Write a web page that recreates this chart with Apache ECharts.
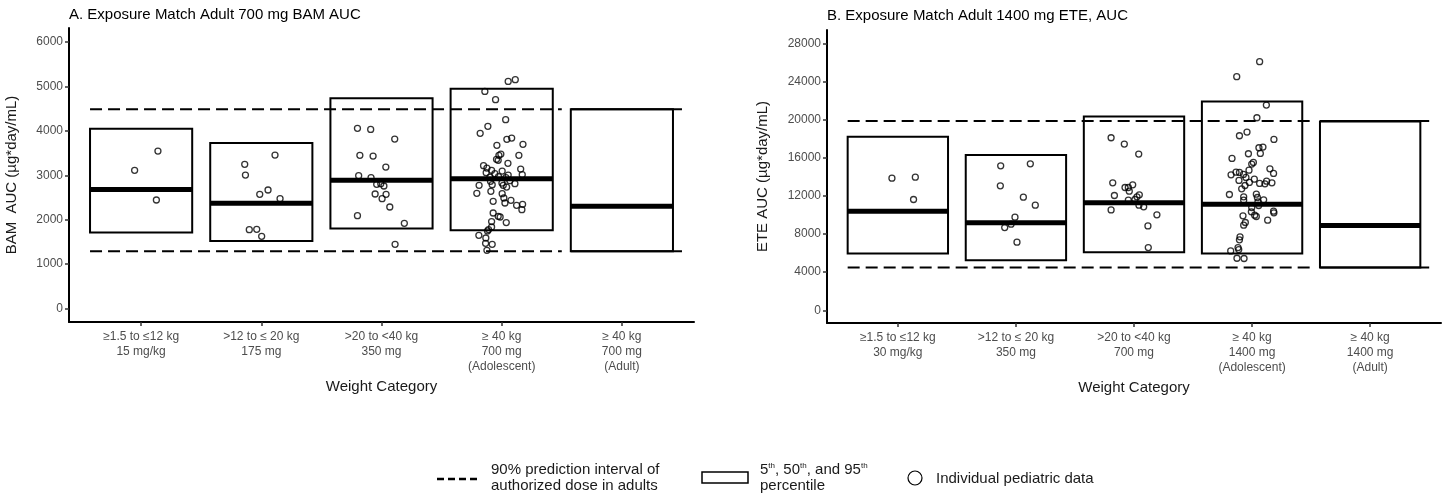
<!DOCTYPE html>
<html>
<head>
<meta charset="utf-8">
<script src="https://cdn.jsdelivr.net/npm/echarts@6/dist/echarts.min.js"></script>
<style>
  html, body { margin: 0; background: #fff; }
  #chart { width: 1447px; height: 500px; }
</style>
</head>
<body>
<div id="chart"></div>
<script>
// category tick labels
const bamLabels = ['\u22651.5 to \u226412 kg\n15 mg/kg', '>12 to \u2264 20 kg\n175 mg', '>20 to <40 kg\n350 mg', '\u2265 40 kg\n700 mg\n(Adolescent)', '\u2265 40 kg\n700 mg\n(Adult)'];
const eteLabels = ['\u22651.5 to \u226412 kg\n30 mg/kg', '>12 to \u2264 20 kg\n350 mg', '>20 to <40 kg\n700 mg', '\u2265 40 kg\n1400 mg\n(Adolescent)', '\u2265 40 kg\n1400 mg\n(Adult)'];
const bamTicks = [0, 1000, 2000, 3000, 4000, 5000, 6000];
const eteTicks = [0, 4000, 8000, 12000, 16000, 20000, 24000, 28000];

// 5th, 50th, 95th percentile per category
const bamBoxes = [[1710, 2678, 4050], [1522, 2370, 3728], [1800, 2888, 4733], [1763, 2925, 4950], [1290, 2303, 4485]];
const eteBoxes = [[5950, 10395, 18200], [5250, 9170, 16275], [6090, 11270, 20335], [5950, 11130, 21910], [4480, 8890, 19800]];

// 90% prediction interval in adults
const bamInterval = [1290, 4485];
const eteInterval = [4480, 19845];

// individual pediatric data: [jitter, AUC]
const bamPts0 = [[0.14, 3546], [-0.054, 3112], [0.127, 2444]];
const bamPts1 = [[0.114, 3456], [-0.138, 3247], [-0.132, 3006], [0.056, 2669], [-0.013, 2572], [0.156, 2475], [-0.10, 1777], [-0.038, 1784], [0.003, 1627]];
const bamPts2 = [[-0.20, 4057], [-0.09, 4034], [0.11, 3816], [-0.18, 3449], [-0.07, 3434], [0.036, 3186], [-0.19, 2992], [-0.087, 2947], [-0.04, 2797], [0.02, 2759], [-0.006, 2812], [-0.053, 2579], [0.038, 2572], [0.005, 2475], [0.069, 2287], [-0.20, 2092], [0.19, 1919], [0.113, 1447]];
const bamPts3 = [[0.054, 5114], [0.113, 5152], [-0.14, 4889], [-0.051, 4702], [0.033, 4252], [-0.115, 4102], [-0.179, 3944], [0.083, 3839], [0.043, 3809], [0.177, 3697], [-0.04, 3674], [-0.007, 3479], [-0.023, 3449], [0.143, 3449], [-0.043, 3359], [-0.029, 3337], [0.052, 3269], [-0.151, 3217], [0.158, 3141], [-0.123, 3164], [-0.084, 3112], [0.004, 3096], [0.171, 3015], [-0.129, 3060], [-0.057, 3037], [0.054, 3006], [-0.098, 2961], [-0.026, 2970], [0.035, 2947], [-0.093, 2864], [0.002, 2826], [0.068, 2880], [0.11, 2812], [-0.188, 2774], [-0.079, 2790], [0.041, 2736], [0.013, 2774], [-0.207, 2594], [-0.09, 2639], [0.004, 2587], [0.018, 2489], [-0.071, 2414], [0.077, 2437], [0.027, 2377], [0.124, 2324], [0.174, 2347], [0.168, 2227], [-0.071, 2152], [-0.029, 2077], [-0.013, 2062], [0.038, 1935], [-0.084, 1958], [-0.084, 1837], [-0.109, 1778], [-0.118, 1747], [-0.19, 1650], [-0.132, 1589], [-0.079, 1447], [-0.134, 1470], [-0.123, 1312]];

const etePts0 = [[-0.05, 13860], [0.148, 13965], [0.133, 11620]];
const etePts1 = [[-0.129, 15155], [0.122, 15365], [-0.132, 13055], [0.063, 11865], [0.164, 11025], [-0.008, 9765], [-0.041, 9030], [-0.095, 8680], [0.009, 7140]];
const etePts2 = [[-0.194, 18095], [-0.082, 17430], [0.04, 16380], [-0.18, 13370], [-0.011, 13160], [-0.076, 12880], [-0.048, 12880], [-0.04, 12495], [-0.166, 12040], [0.045, 12110], [0.025, 11900], [0.008, 11620], [-0.048, 11550], [0.042, 11025], [0.082, 10850], [-0.194, 10530], [0.194, 10010], [0.118, 8850], [0.121, 6580]];
const etePts3 = [[0.064, 26070], [-0.13, 24500], [0.121, 21525], [0.041, 20195], [-0.043, 18690], [-0.107, 18305], [0.185, 17925], [0.058, 17045], [0.092, 17115], [0.07, 16450], [-0.031, 16415], [-0.17, 15930], [0.011, 15510], [-0.003, 15330], [0.151, 14840], [-0.026, 14700], [-0.136, 14490], [-0.107, 14455], [0.182, 14350], [-0.178, 14210], [-0.073, 14245], [-0.052, 13930], [0.019, 13755], [-0.111, 13615], [-0.023, 13405], [0.123, 13545], [0.064, 13300], [0.109, 13265], [0.168, 13370], [-0.06, 13090], [-0.088, 12740], [-0.192, 12145], [-0.071, 11900], [0.036, 12180], [0.045, 11830], [0.098, 11585], [-0.071, 11550], [0.05, 11375], [0.056, 10990], [-0.003, 10780], [0.182, 10395], [-0.006, 10325], [0.185, 10220], [0.022, 9975], [0.036, 9835], [-0.077, 9905], [0.132, 9450], [-0.057, 9205], [-0.071, 8925], [-0.102, 7700], [-0.107, 7385], [-0.119, 6580], [-0.113, 6370], [-0.181, 6230], [-0.128, 5460], [-0.068, 5430]];

const FONT = "'Liberation Sans', Arial, sans-serif";
const HALF = 0.425;

function boxItem(params, api) {
  const x = api.value(0);
  const lo = api.coord([x - HALF, api.value(1)]);
  const hi = api.coord([x + HALF, api.value(3)]);
  const med = api.coord([x, api.value(2)]);
  return {
    type: 'group',
    children: [
      { type: 'rect', shape: { x: lo[0], y: hi[1], width: hi[0] - lo[0], height: lo[1] - hi[1] },
        style: { fill: 'none', stroke: '#000', lineWidth: 2 } },
      { type: 'line', shape: { x1: lo[0], y1: med[1], x2: hi[0], y2: med[1] },
        style: { stroke: '#000', lineWidth: 5 } }
    ]
  };
}

function panelSeries(idx, boxes, interval, groups) {
  const out = [];
  out.push({
    type: 'custom', xAxisIndex: idx, yAxisIndex: idx, renderItem: boxItem,
    encode: { x: 0, y: [1, 2, 3] },
    data: boxes.map((b, i) => [i, b[0], b[1], b[2]]), silent: true
  });
  interval.forEach(v => {
    out.push({
      type: 'line', xAxisIndex: idx, yAxisIndex: idx, symbol: 'none', silent: true,
      lineStyle: { color: '#000', width: 2, type: [12, 6] },
      data: [[-HALF, v], [3.5, v]]
    });
    out.push({
      type: 'line', xAxisIndex: idx, yAxisIndex: idx, symbol: 'none', silent: true,
      lineStyle: { color: '#000', width: 2 },
      data: [[4 - HALF, v], [4.5, v]]
    });
  });
  groups.forEach((pts, i) => {
    out.push({
      type: 'scatter', xAxisIndex: idx, yAxisIndex: idx, symbol: 'circle', symbolSize: 6, z: 5,
      itemStyle: { color: 'rgba(255,255,255,0)', borderColor: '#000', borderWidth: 1.3 },
      data: pts.map(p => [i + p[0], p[1]])
    });
  });
  return out;
}

function xAxis(idx, labels) {
  return {
    type: 'value', gridIndex: idx, min: -0.6, max: 4.6,
    name: 'Weight Category', nameLocation: 'middle', nameGap: 57,
    nameTextStyle: { fontFamily: FONT, fontSize: 15, color: '#1a1a1a' },
    splitLine: { show: false },
    axisLine: { onZero: false, lineStyle: { color: '#000', width: 2 } },
    axisTick: { customValues: [0, 1, 2, 3, 4], length: 4, lineStyle: { color: '#333', width: 1.5 } },
    axisLabel: { customValues: [0, 1, 2, 3, 4], formatter: v => labels[Math.round(v)], margin: 7,
      fontFamily: FONT, fontSize: 12, lineHeight: 15, color: '#4d4d4d' }
  };
}

function yAxis(idx, name, min, max, ticks, gap) {
  return {
    type: 'value', gridIndex: idx, min: min, max: max,
    name: name, nameLocation: 'middle', nameRotate: 90, nameGap: gap,
    nameTextStyle: { fontFamily: FONT, fontSize: 15, color: '#1a1a1a' },
    splitLine: { show: false },
    axisLine: { show: true, onZero: false, lineStyle: { color: '#000', width: 2 } },
    axisTick: { show: true, customValues: ticks, length: 4, lineStyle: { color: '#333', width: 1.5 } },
    axisLabel: { customValues: ticks, formatter: v => String(Math.round(v)), margin: 6,
      fontFamily: FONT, fontSize: 12, color: '#4d4d4d' }
  };
}

const chart = echarts.init(document.getElementById('chart'), null, { renderer: 'canvas' });

const legendY = 478;
chart.setOption({
  animation: false,
  backgroundColor: '#fff',
  title: [
    { text: 'A. Exposure Match Adult 700 mg BAM AUC', left: 69, top: 7, padding: 0,
      textStyle: { fontFamily: FONT, fontSize: 15, fontWeight: 'normal', color: '#000' } },
    { text: 'B. Exposure Match Adult 1400 mg ETE, AUC', left: 827, top: 8, padding: 0,
      textStyle: { fontFamily: FONT, fontSize: 15, fontWeight: 'normal', color: '#000' } }
  ],
  grid: [
    { left: 69, top: 28, width: 625, height: 294 },
    { left: 827, top: 30, width: 614, height: 293 }
  ],
  xAxis: [xAxis(0, bamLabels), xAxis(1, eteLabels)],
  yAxis: [
    yAxis(0, 'BAM  AUC (\u00b5g*day/mL)', -302, 6316, bamTicks, 50),
    yAxis(1, 'ETE AUC (\u00b5g*day/mL)', -1333, 29396, eteTicks, 57)
  ],
  series: [].concat(
    panelSeries(0, bamBoxes, bamInterval, [bamPts0, bamPts1, bamPts2, bamPts3]),
    panelSeries(1, eteBoxes, eteInterval, [etePts0, etePts1, etePts2, etePts3])
  ),
  graphic: [
    { type: 'line', shape: { x1: 437, y1: legendY + 1, x2: 481, y2: legendY + 1 },
      style: { stroke: '#000', lineWidth: 2.5, lineDash: [7, 4] } },
    { type: 'text', x: 491, y: legendY, style: { text: '90% prediction interval of\nauthorized dose in adults',
      font: '15px ' + FONT, fill: '#1a1a1a', verticalAlign: 'middle', lineHeight: 16 } },
    { type: 'rect', shape: { x: 702, y: legendY - 6, width: 46, height: 11 },
      style: { fill: '#fff', stroke: '#000', lineWidth: 1.5 } },
    { type: 'text', x: 760, y: legendY, style: {
      text: '5{s|th}, 50{s|th}, and 95{s|th}\npercentile', font: '15px ' + FONT, fill: '#1a1a1a',
      verticalAlign: 'middle', lineHeight: 16,
      rich: { s: { fontSize: 8, verticalAlign: 'top', lineHeight: 10, fill: '#1a1a1a', fontFamily: FONT } } } },
    { type: 'circle', shape: { cx: 915, cy: legendY, r: 7 },
      style: { fill: 'none', stroke: '#000', lineWidth: 1.2 } },
    { type: 'text', x: 936, y: legendY + 1, style: { text: 'Individual pediatric data',
      font: '15px ' + FONT, fill: '#1a1a1a', verticalAlign: 'middle' } }
  ]
});
</script>
</body>
</html>
